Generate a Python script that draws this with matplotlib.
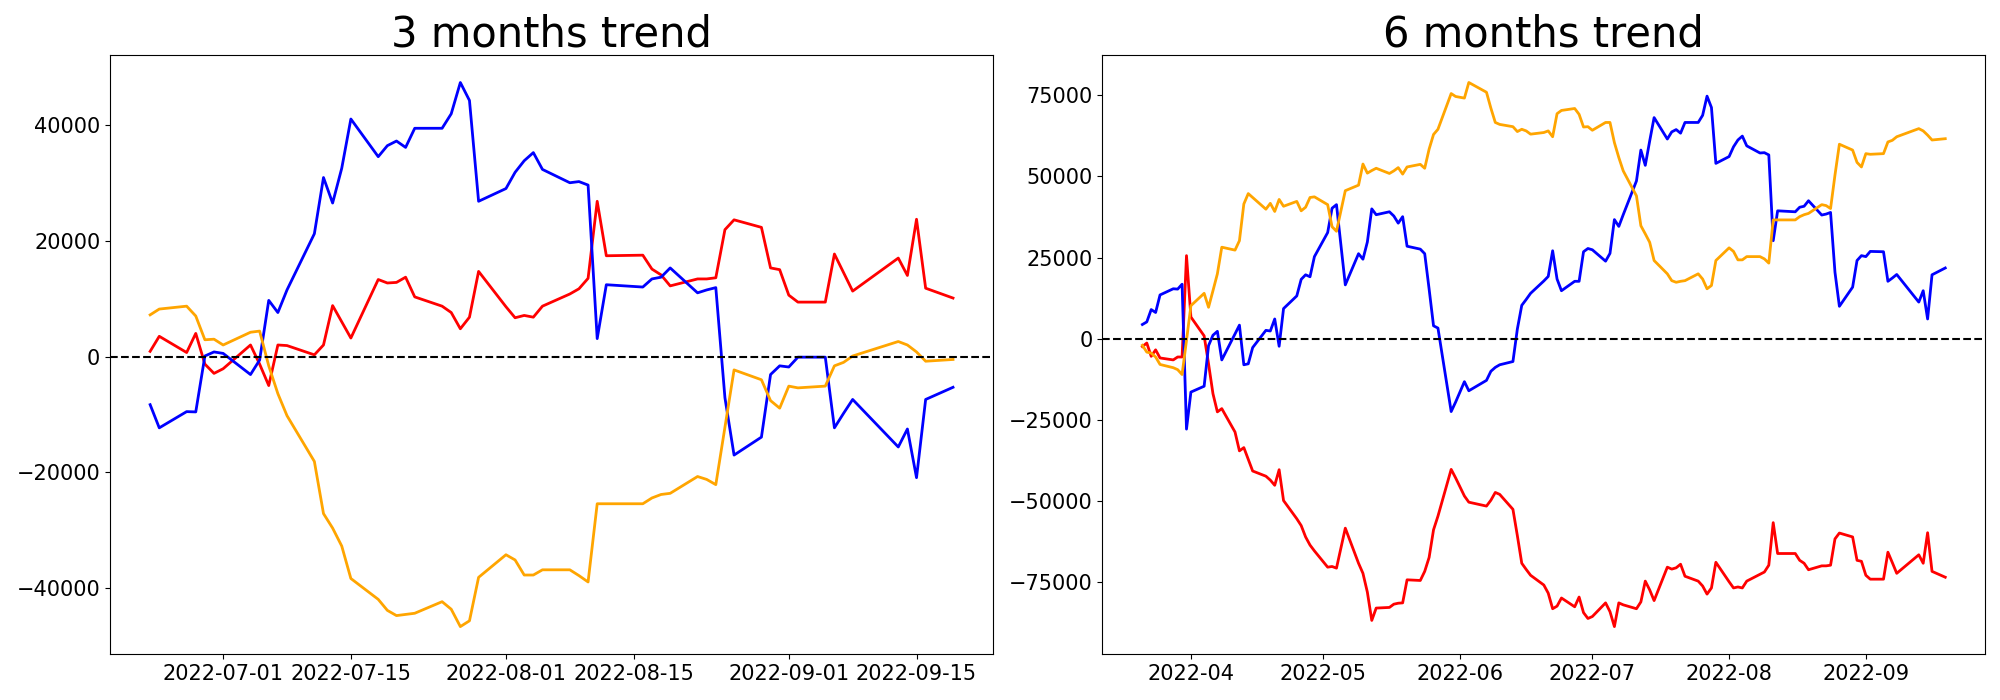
import pandas as pd
import matplotlib
matplotlib.use('Agg')
import matplotlib.pyplot as plt

# Korean market holidays inside the plotted windows
kr_holidays = ['2022-05-05', '2022-06-01', '2022-06-06', '2022-08-15', '2022-09-09', '2022-09-12']

dates_3m = pd.bdate_range('2022-06-23', '2022-09-19', freq='C', holidays=kr_holidays)
dates_6m = pd.bdate_range('2022-03-21', '2022-09-19', freq='C', holidays=kr_holidays)

# 3 months trend
red_3m = [900, 3500, 700, 4000, -1300, -2900, -2100, 2000, -1300, -5000,
          2000, 1900, 300, 2000, 8800, 6000, 3200, 13300, 12700, 12800,
          13700, 10300, 8700, 7600, 4800, 6800, 14700, 8600, 6700, 7100,
          6800, 8700, 10800, 11700, 13500, 26800, 17400, 17500, 15100, 14100,
          12200, 13400, 13400, 13600, 21900, 23600, 22300, 15300, 15000, 10600,
          9400, 9400, 17700, 14500, 11300, 17000, 14000, 23700, 11800, 10100]
blue_3m = [-8300, -12300, -9500, -9550, 100, 800, 550, -3100, -600, 9700,
           7600, 11500, 21200, 30900, 26500, 32500, 41000, 34500, 36400, 37200,
           36100, 39400, 39400, 41900, 47300, 44200, 26800, 29000, 31800, 33800,
           35200, 32300, 30000, 30200, 29600, 3100, 12400, 12000, 13400, 13700,
           15300, 11000, 11500, 11900, -7100, -17000, -13900, -3100, -1600, -1800,
           -100, -100, -12300, -9800, -7400, -15600, -12500, -20900, -7400, -5300]
orange_3m = [7200, 8200, 8700, 7000, 2900, 3000, 2000, 4200, 4400, -1600,
             -6400, -10200, -18100, -27100, -29600, -32700, -38300, -41900, -43800, -44700,
             -44500, -44300, -42300, -43600, -46600, -45600, -38100, -34200, -35100, -37700,
             -37700, -36800, -36800, -37800, -38900, -25400, -25400, -25400, -24400, -23800,
             -23600, -20700, -21200, -22100, -12200, -2300, -4000, -7600, -8900, -5100,
             -5400, -5100, -1600, -1000, 100, 2600, 2000, 800, -800, -500]

# 6 months trend
red_6m = [-2400, -1300, -5400, -3400, -5900, -6500, -5600, -5600, 25600, 6700,
          900, -7700, -16900, -22500, -21500, -28700, -34500, -33500, -37100, -40700,
          -42300, -43500, -45100, -40300, -49800, -55400, -57500, -61000, -63500, -65300,
          -70300, -70100, -70600, -58300,
          -69100, -72200, -78000, -86700, -82900, -82700, -81700, -81400, -81300, -74200,
          -74400, -71600, -67300, -58800, -54600, -40200, -42800, -48400, -50300,
          -51500, -49700, -47300, -47900,
          -52500, -60600, -69100, -71000, -72800, -75800, -78300, -83100, -82300, -79800,
          -82500, -79500, -84300, -86100, -85500, -81300, -84000, -88600, -81300, -81900,
          -83100, -81000, -74600, -77300, -80600, -70300, -70900, -70500, -69400, -73100,
          -74600, -76100, -78600, -76700, -68800, -74800, -76700, -76400, -76700, -74600,
          -72500, -71800, -69700, -56600, -66100, -66100, -68200, -69100, -71100,
          -69900, -69900, -69700, -61600, -59800, -61000, -68200, -68500, -72800, -74000,
          -74000, -65700, -68900, -72200, -66500, -69100, -59700, -71600, -73400]
blue_6m = [4400, 5200, 9000, 8100, 13500, 15400, 15300, 16800, -27800, -16400,
           -14600, -2100, 1100, 2300, -6500, 1500, 4200, -8000, -7700, -2700,
           2600, 2400, 6100, -2300, 9300, 13200, 18300, 19700, 19100, 25300,
           32700, 40200, 41300, 16600,
           26200, 24500, 29800, 40000, 38200, 39100, 37800, 35600, 37600, 28500,
           27600, 26200, 15300, 4000, 3300, -22400, -19500, -13200, -16000,
           -12800, -10000, -8800, -8000,
           -7000, 3000, 10300, 12100, 14000, 17800, 19200, 27100, 18400, 14800,
           17700, 17700, 26800, 27800, 27400, 23900, 26300, 36700, 34600, 38200,
           48600, 58100, 53400, 60900, 68100, 61500, 63700, 64400, 63300, 66600,
           66600, 68800, 74700, 71200, 54000, 56100, 59100, 61200, 62400, 59400,
           57200, 57300, 56600, 30200, 39400, 39100, 40500, 40800, 42500,
           38100, 38400, 38900, 20500, 10000, 15900, 24100, 25600, 25300, 26900,
           26800, 17700, 18700, 19800, 11300, 14800, 6100, 19700, 21800]
orange_6m = [-2000, -4100, -4400, -5600, -7900, -8900, -9500, -11000, -500, 10200,
             14000, 9700, 14800, 20000, 28200, 27300, 30200, 41500, 44700, 43500,
             39900, 41700, 39200, 42900, 40800, 42300, 39400, 40500, 43500, 43700,
             41300, 34500, 33100, 45600,
             47300, 53800, 51000, 51800, 52500, 50900, 51700, 52700, 50700, 52900,
             53700, 52500, 58400, 62900, 64500, 75500, 74600, 74100, 78900,
             75900, 71000, 66600, 66000,
             65300, 63800, 64500, 64000, 63000, 63500, 64000, 62200, 69300, 70300,
             70900, 69100, 65200, 65300, 64200, 66600, 66600, 60400, 55800, 51700,
             44000, 34800, 32300, 29700, 24100, 20000, 17900, 17400, 17700, 17900,
             20000, 18400, 15400, 16400, 24100, 28000, 26900, 24300, 24300, 25300,
             25300, 24600, 23300, 36600, 36600, 36600, 37600, 38200, 38600,
             41300, 41000, 40100, 50400, 59900, 58100, 54300, 52900, 57000, 56800,
             57000, 60600, 61100, 62200, 64700, 64000, 62700, 61200, 61600]

fig, axes = plt.subplots(1, 2, figsize=(20, 7), dpi=100)
plt.subplots_adjust(left=0.055, right=0.9927, bottom=0.066, top=0.921, wspace=0.1235)

panels = [(axes[0], '3 months trend', dates_3m, red_3m, blue_3m, orange_3m),
          (axes[1], '6 months trend', dates_6m, red_6m, blue_6m, orange_6m)]

for ax, title, d, r, b, o in panels:
    ax.plot(d, r, color='red', linewidth=2)
    ax.plot(d, b, color='blue', linewidth=2)
    ax.plot(d, o, color='orange', linewidth=2)
    ax.axhline(0, color='black', linestyle='--', linewidth=1.5)
    ax.set_title(title, fontsize=30)
    ax.tick_params(labelsize=15)

plt.savefig('out.png')
